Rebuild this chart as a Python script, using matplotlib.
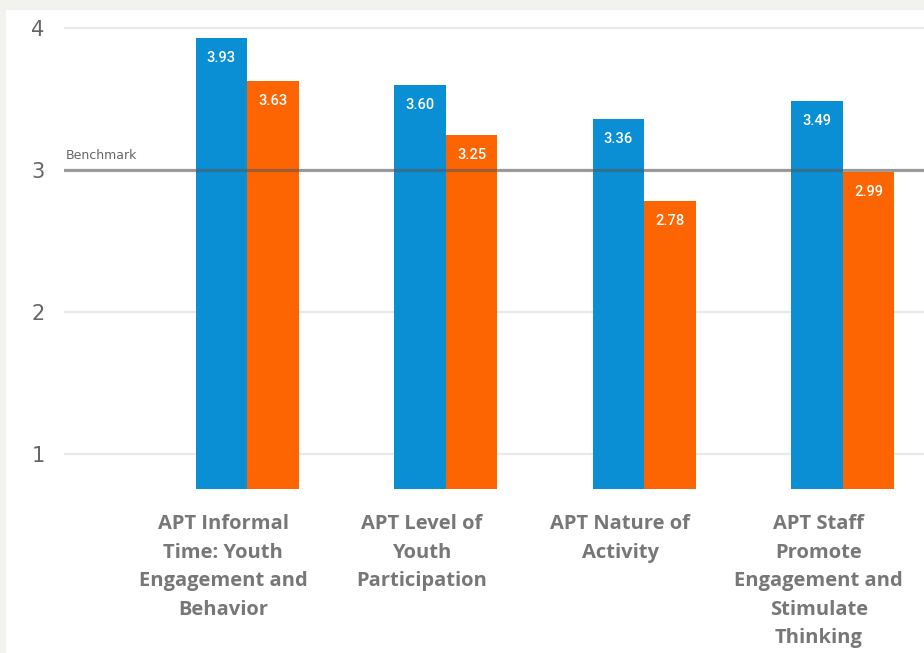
import matplotlib.pyplot as plt
from matplotlib.patches import Rectangle
import numpy as np

categories = [
    'APT Informal\nTime: Youth\nEngagement and\nBehavior',
    'APT Level of\nYouth\nParticipation',
    'APT Nature of\nActivity',
    'APT Staff\nPromote\nEngagement and\nStimulate\nThinking',
]
blue_values = [3.93, 3.60, 3.36, 3.49]
orange_values = [3.63, 3.25, 2.78, 2.99]
benchmark = 3

blue = '#0b8fd4'
orange = '#fc6502'
y_min = 0.75

fig = plt.figure(figsize=(9.24, 6.53), dpi=100, facecolor='#f2f2ee')
# white panel
fig.patches.append(Rectangle((6 / 924, 0), 1, (653 - 10) / 653, transform=fig.transFigure,
                             facecolor='white', edgecolor='none', zorder=-10))

ax = fig.add_axes([64 / 924, (653 - 489) / 653, 1 - 64 / 924, (489 - 18) / 653])
ax.set_facecolor('none')

x = np.arange(len(categories))
w = 0.26
b1 = ax.bar(x - w / 2, np.array(blue_values) - y_min, w, bottom=y_min, color=blue, zorder=2)
b2 = ax.bar(x + w / 2, np.array(orange_values) - y_min, w, bottom=y_min, color=orange, zorder=2)

for bars, vals in [(b1, blue_values), (b2, orange_values)]:
    for rect, v in zip(bars, vals):
        ax.annotate('%.2f' % v, (rect.get_x() + rect.get_width() / 2, v),
                    xytext=(0, -20), textcoords='offset pixels', ha='center', va='center',
                    color='white', fontsize=10.5, family='Roboto', fontweight='medium', zorder=4)

ax.axhline(benchmark, color='#555555', alpha=0.55, lw=2.3, zorder=3)
ax.text(0.002, benchmark + 0.06, 'Benchmark', transform=ax.get_yaxis_transform(),
        color='#666666', fontsize=9, va='bottom', ha='left')

ax.set_ylim(y_min, 4.074)
ax.set_xlim(-0.923, 3.41)
ax.set_yticks([1, 2, 3, 4])
ax.yaxis.grid(True, color='#e9e9e9', lw=1.6, zorder=0)
ax.set_axisbelow(True)
ax.tick_params(axis='y', length=0, pad=14, labelsize=15, labelcolor='#666666')
ax.set_xticks(x - 0.12)
ax.set_xticklabels(categories, fontsize=14.5, fontweight='bold', color='#777777',
                   family='Open Sans', linespacing=1.57)
ax.tick_params(axis='x', length=0, pad=18)
for s in ax.spines.values():
    s.set_visible(False)

fig.savefig('out.png', dpi=100, facecolor=fig.get_facecolor())
